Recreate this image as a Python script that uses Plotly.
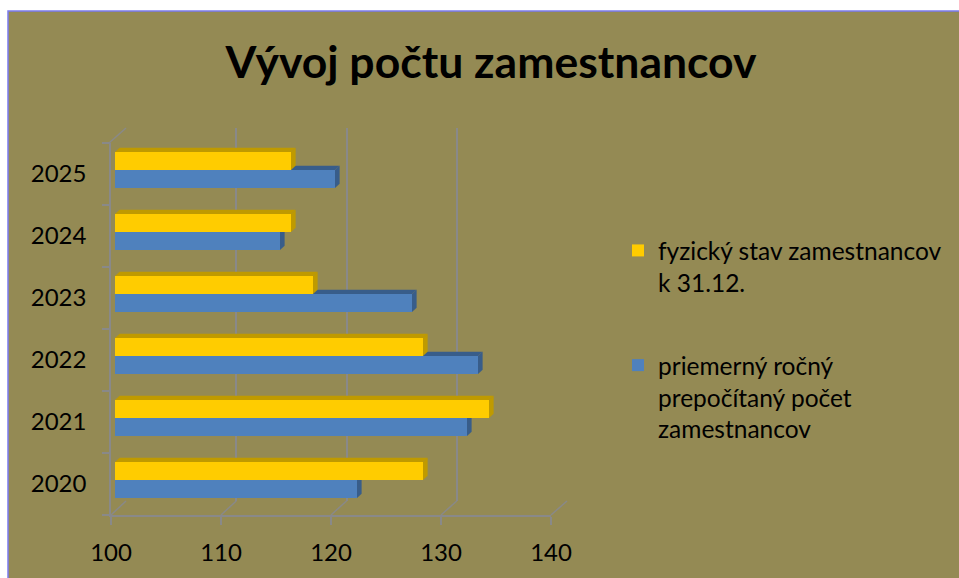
import plotly.graph_objects as go

# ---- data ----
years = ["2020", "2021", "2022", "2023", "2024", "2025"]
fyzicky_stav = [128, 134, 128, 118, 116, 116]          # fyzický stav zamestnancov k 31.12.
priemerny_pocet = [122, 132, 133, 127, 115, 120]       # priemerný ročný prepočítaný počet zamestnancov
x_ticks = [100, 110, 120, 130, 140]

name_yellow = "fyzický stav zamestnancov<br>k 31.12."
name_blue = "priemerný ročný<br>prepočítaný počet<br>zamestnancov"

W, H = 959, 578
BG = "#948A54"
YEL, YEL_D = "#FFCC00", "#BF9A00"
BLU, BLU_D = "#4F81BD", "#385D8A"
GRID = "#898989"
FONT = "Lato"

# front axes, bar plane (mid depth) and back wall rectangles in pixels
FX0, FX1, FY0, FY1 = 111, 551, 143, 515
MX0, MX1, MY0, MY1 = 115, 555, 139, 511
BX0, BX1, BY0, BY1 = 126, 567, 128, 501

def px(x):
    return x / W

def py(y):
    return 1 - y / H

n = len(years)
pos = list(range(n))

fig = go.Figure()

# empty helper traces so that the back-wall and front-axis subplots are drawn
fig.add_trace(go.Scatter(x=[None], y=[None], xaxis="x", yaxis="y",
                         showlegend=False, hoverinfo="skip", mode="markers"))
fig.add_trace(go.Scatter(x=[None], y=[None], xaxis="x2", yaxis="y2",
                         showlegend=False, hoverinfo="skip", mode="markers"))

bargap = 0.42
bw = (1 - bargap) / 2

# bars on the mid-depth plane (x3, y3); blue is the lower bar of each group
fig.add_trace(go.Bar(
    y=years, x=[v - 100 for v in priemerny_pocet], base=100, orientation="h",
    name=name_blue, marker=dict(color=BLU, line=dict(width=0)),
    width=bw, offset=-bw,
    xaxis="x3", yaxis="y3", legendgroup="b", legendrank=2,
    customdata=priemerny_pocet, hovertemplate="%{y}: %{customdata}<extra></extra>",
))
fig.add_trace(go.Bar(
    y=years, x=[v - 100 for v in fyzicky_stav], base=100, orientation="h",
    name=name_yellow, marker=dict(color=YEL, line=dict(width=0)),
    width=bw, offset=0,
    xaxis="x3", yaxis="y3", legendgroup="a", legendrank=1,
    customdata=fyzicky_stav, hovertemplate="%{y}: %{customdata}<extra></extra>",
))

dx, dy = 0.42, 0.07   # depth of 3-D faces in data units

shapes = []
# page background with border
shapes.append(dict(type="rect", xref="paper", yref="paper",
                   x0=px(8), x1=1.02, y0=-0.02, y1=py(11),
                   fillcolor=BG, line=dict(color="#7B7BF0", width=1.5), layer="below"))

# 3-D side faces computed from the data values
for i, (vb, vy) in enumerate(zip(priemerny_pocet, fyzicky_stav)):
    for v, bot, top, dark in ((vb, i - bw, i, BLU_D), (vy, i, i + bw, YEL_D)):
        path_top = f"M100,{top} L{v},{top} L{v+dx},{top+dy} L{100+dx},{top+dy} Z"
        path_side = f"M{v},{bot} L{v},{top} L{v+dx},{top+dy} L{v+dx},{bot+dy} Z"
        for p in (path_top, path_side):
            shapes.append(dict(type="path", xref="x3", yref="y3", path=p,
                               fillcolor=dark, line=dict(width=0), layer="below"))

# floor diagonals and top-left wall edge
for t in x_ticks:
    fxp = FX0 + (t - 100) / 40 * (FX1 - FX0)
    bxp = BX0 + (t - 100) / 40 * (BX1 - BX0)
    shapes.append(dict(type="line", xref="paper", yref="paper",
                       x0=px(fxp), y0=py(FY1), x1=px(bxp), y1=py(BY1),
                       line=dict(color=GRID, width=1.5), layer="below"))
shapes.append(dict(type="line", xref="paper", yref="paper",
                   x0=px(FX0 - 2), y0=py(FY0), x1=px(BX0), y1=py(BY0),
                   line=dict(color=GRID, width=1.5), layer="below"))

hidden = dict(showgrid=False, showticklabels=False, zeroline=False, showline=False,
              ticks="", automargin=False)

fig.update_layout(
    width=W, height=H,
    margin=dict(l=0, r=0, t=0, b=0),
    paper_bgcolor="white",
    plot_bgcolor="rgba(0,0,0,0)",
    font=dict(family=FONT, color="black", size=24),
    title=dict(text="<b>Vývoj počtu zamestnancov</b>", x=px(491), xanchor="center",
               y=py(62), yanchor="middle", font=dict(family=FONT, size=44.5, color="black"),
               automargin=False),
    barmode="overlay",
    # back wall gridlines
    xaxis=dict(domain=[px(BX0), px(BX1)], range=[100, 140], anchor="y",
               tickvals=x_ticks, showgrid=True, gridcolor=GRID, gridwidth=1.5,
               showticklabels=False, zeroline=False, showline=False, ticks="",
               automargin=False),
    yaxis=dict(domain=[py(BY1), py(BY0)], range=[0, 1], anchor="x", **hidden),
    # front axes (labels, axis lines, ticks)
    xaxis2=dict(domain=[px(FX0), px(FX1)], range=[100, 140], anchor="y2",
                tickvals=x_ticks, showgrid=False, zeroline=False,
                showline=True, linecolor=GRID, linewidth=1.5,
                ticks="outside", ticklen=8, tickcolor=GRID, tickwidth=1.5,
                ticklabelstandoff=7, tickfont=dict(size=24), automargin=False),
    yaxis2=dict(domain=[py(FY1), py(FY0)], range=[-0.5, n - 0.5], anchor="x2",
                tickvals=pos, ticktext=years,
                showgrid=False, zeroline=False,
                showline=True, linecolor=GRID, linewidth=1.5,
                ticks="outside", ticklen=7, tickcolor="rgba(0,0,0,0)",
                minor=dict(tickvals=[p - 0.5 for p in pos] + [n - 0.5], ticks="outside",
                           ticklen=7, tickcolor=GRID, tickwidth=1.5, showgrid=False),
                ticklabelstandoff=11, tickfont=dict(size=24), automargin=False),
    # bar plane
    xaxis3=dict(domain=[px(MX0), px(MX1)], range=[100, 140], anchor="y3", **hidden),
    yaxis3=dict(domain=[py(MY1), py(MY0)], type="category", categoryorder="array",
                categoryarray=years, range=[-0.5, n - 0.5], anchor="x3", **hidden),
    legend=dict(x=px(618), y=py(228), xanchor="left", yanchor="top",
                bgcolor="rgba(0,0,0,0)", font=dict(family=FONT, size=24.5),
                valign="top", tracegroupgap=48, traceorder="grouped"),
    shapes=shapes,
    showlegend=True,
)

fig.write_html("out.html", config={"displayModeBar": False},
               post_script="document.body.style.margin='0px';")
